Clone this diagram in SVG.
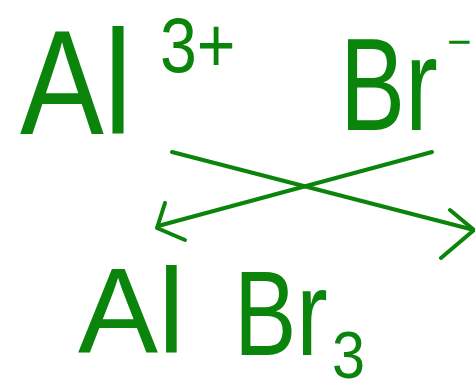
<svg xmlns="http://www.w3.org/2000/svg" width="475" height="392" viewBox="0 0 475 392">
<style>
.t{font-family:"Liberation Sans",Arial,sans-serif;fill:#0a840a}
.c{fill:none;stroke:#0a840a;stroke-width:4;stroke-linecap:round;stroke-linejoin:round}
</style>
<rect width="475" height="392" fill="#ffffff"/>
<g id="al3plus">
<text class="t" transform="translate(20,134) scale(0.85,1)" font-size="148">Al</text>
<text class="t" transform="translate(160,72) scale(0.85,1)" font-size="78">3+</text>
</g>
<g id="brminus">
<text class="t" transform="translate(340,130) scale(0.74,1)" font-size="132">Br</text>
<text class="t" x="447" y="56" font-size="42">−</text>
</g>
<g id="albr3">
<text class="t" x="78" y="352" font-size="120">Al</text>
<text class="t" transform="translate(234,355) scale(0.78,1)" font-size="120">Br</text>
<text class="t" transform="translate(332,378) scale(0.9,1)" font-size="66">3</text>
</g>
<g id="connectors">
<path class="c" d="M172,152 L474,230"/>
<path class="c" d="M450,210 L474,230 L441,258"/>
<path class="c" d="M432,152 L158,226"/>
<path class="c" d="M165,203 L157,228 L185,240"/>
</g>
</svg>
